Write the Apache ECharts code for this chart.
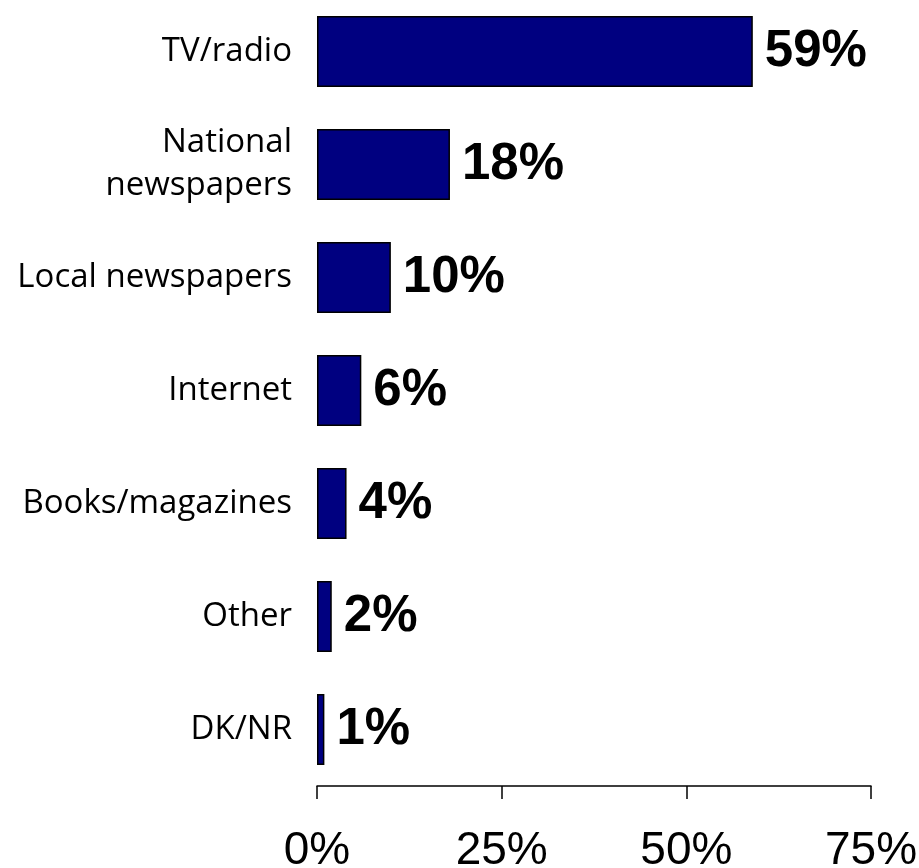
<!DOCTYPE html>
<html>
<head>
<meta charset="utf-8">
<script src="https://cdn.jsdelivr.net/npm/echarts@6/dist/echarts.min.js"></script>
<style>html,body{margin:0;padding:0;background:#fff;overflow:hidden}#c{width:919px;height:868px}</style>
</head>
<body>
<div id="c"></div>
<script>
const categories = ["TV/radio", "National\nnewspapers", "Local newspapers", "Internet", "Books/magazines", "Other", "DK/NR"];
const values = [59, 18, 10, 6, 4, 2, 1];
const xTicks = [0, 25, 50, 75];

const chart = echarts.init(document.getElementById('c'), null, {renderer: 'canvas'});
chart.setOption({
  animation: false,
  backgroundColor: '#fff',
  grid: {left: 317, right: 48, top: -5, bottom: 82, containLabel: false, outerBoundsMode: 'none'},
  xAxis: {
    type: 'value', min: xTicks[0], max: xTicks[xTicks.length - 1], interval: 25,
    axisLine: {show: true, lineStyle: {color: '#000', width: 1.5}},
    axisTick: {show: true, length: 13, lineStyle: {color: '#000', width: 1.5}},
    splitLine: {show: false},
    axisLabel: {formatter: v => v + '%', fontFamily: 'Liberation Sans', fontSize: 46, color: '#000', margin: 42}
  },
  yAxis: {
    type: 'category', data: categories, inverse: true,
    axisLine: {show: false}, axisTick: {show: false},
    axisLabel: {fontFamily: 'Open Sans', fontSize: 33, color: '#000', margin: 25, lineHeight: 43, align: 'right'}
  },
  series: [{
    type: 'bar', data: values, barCategoryGap: '37%',
    itemStyle: {color: '#000080', borderColor: '#000', borderWidth: 1.5},
    label: {show: true, position: 'right', distance: 12, formatter: p => p.value + '%',
      fontFamily: 'Liberation Sans', fontWeight: 'bold', fontSize: 51, color: '#000'}
  }]
});
</script>
</body>
</html>
